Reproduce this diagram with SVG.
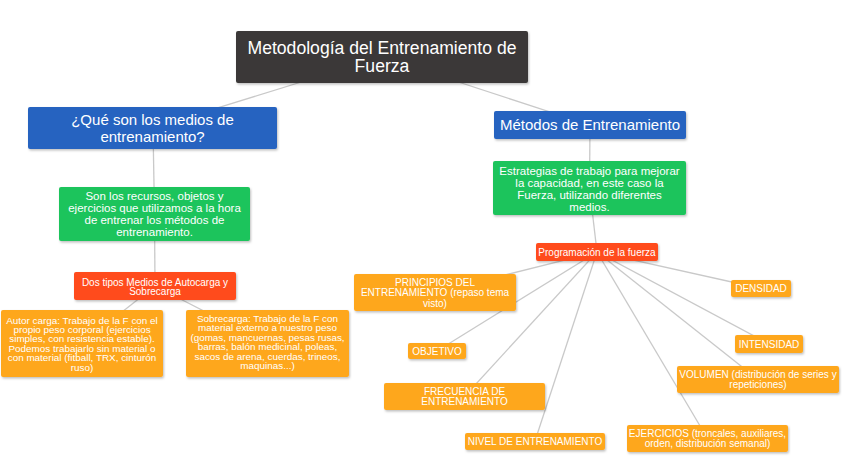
<svg xmlns="http://www.w3.org/2000/svg" width="848" height="468" viewBox="0 0 848 468">
<defs>
<filter id="sh" x="-10%" y="-20%" width="120%" height="150%"><feDropShadow dx="1" dy="1.5" stdDeviation="1" flood-color="#000" flood-opacity="0.25"/></filter>
<style>
.b{filter:url(#sh);rx:2}
.t{fill:#fff;font-family:"Liberation Sans",Arial,sans-serif;text-anchor:middle}
.dk{fill:#3b3938}.bl{fill:#2563c0}.gr{fill:#1ec45c}.rd{fill:#ff4b1c}.or{fill:#fea71f}
.c line{stroke:#c9c9c9;stroke-width:1.3;fill:none}
</style>
</defs>
<rect width="848" height="468" fill="#fff"/>
<g class="c" id="connectors">
<line x1="382" y1="57" x2="152.5" y2="128"/>
<line x1="382" y1="57" x2="590" y2="125"/>
<line x1="153" y1="128" x2="154.5" y2="214"/>
<line x1="154.5" y1="214" x2="155" y2="286"/>
<line x1="155" y1="286" x2="82" y2="343.5"/>
<line x1="155" y1="286" x2="267" y2="343.5"/>
<line x1="590" y1="125" x2="589.5" y2="188"/>
<line x1="589.5" y1="188" x2="597" y2="252"/>
<line x1="597" y1="252" x2="435" y2="292.5"/>
<line x1="597" y1="252" x2="437" y2="351"/>
<line x1="597" y1="252" x2="464.5" y2="396.5"/>
<line x1="597" y1="252" x2="535" y2="441"/>
<line x1="597" y1="252" x2="707.5" y2="438.5"/>
<line x1="597" y1="252" x2="758" y2="379.5"/>
<line x1="597" y1="252" x2="769" y2="344"/>
<line x1="597" y1="252" x2="761" y2="288.5"/>
</g>
<g id="title"><rect class="b dk" x="236" y="31" width="292" height="52"/>
<text class="t" font-size="17.6"><tspan x="382" y="54">Metodología del Entrenamiento de</tspan><tspan x="382" y="72">Fuerza</tspan></text></g>
<g id="medios"><rect class="b bl" x="28" y="107" width="249" height="42"/>
<text class="t" font-size="15"><tspan x="152.5" y="125">¿Qué son los medios de</tspan><tspan x="152.5" y="142">entrenamiento?</tspan></text></g>
<g id="metodos"><rect class="b bl" x="494" y="111" width="192" height="28"/>
<text class="t" font-size="15" x="590" y="130">Métodos de Entrenamiento</text></g>
<g id="recursos"><rect class="b gr" x="59" y="187" width="191" height="54"/>
<text class="t" font-size="11.5"><tspan x="154.5" y="200">Son los recursos, objetos y</tspan><tspan x="154.5" y="212">ejercicios que utilizamos a la hora</tspan><tspan x="154.5" y="224">de entrenar los métodos de</tspan><tspan x="154.5" y="236">entrenamiento.</tspan></text></g>
<g id="estrategias"><rect class="b gr" x="493" y="161" width="193" height="54"/>
<text class="t" font-size="11.5"><tspan x="589.5" y="175">Estrategias de trabajo para mejorar</tspan><tspan x="589.5" y="187">la capacidad, en este caso la</tspan><tspan x="589.5" y="199">Fuerza, utilizando diferentes</tspan><tspan x="589.5" y="211">medios.</tspan></text></g>
<g id="dostipos"><rect class="b rd" x="74" y="272" width="162" height="28"/>
<text class="t" font-size="10"><tspan x="155" y="285.5">Dos tipos Medios de Autocarga y</tspan><tspan x="155" y="295">Sobrecarga</tspan></text></g>
<g id="programacion"><rect class="b rd" x="536" y="243" width="122" height="18"/>
<text class="t" font-size="10" x="597" y="255.5">Programación de la fuerza</text></g>
<g id="autor"><rect class="b or" x="1" y="310" width="162" height="67"/>
<text class="t" font-size="9.9"><tspan x="82" y="323.5">Autor carga: Trabajo de la F con el</tspan><tspan x="82" y="332.9">propio peso corporal (ejercicios</tspan><tspan x="82" y="342.3">simples, con resistencia estable).</tspan><tspan x="82" y="351.7">Podemos trabajarlo sin material o</tspan><tspan x="82" y="361.1">con material (fitball, TRX, cinturón</tspan><tspan x="82" y="370.5">ruso)</tspan></text></g>
<g id="sobrecarga"><rect class="b or" x="186" y="310" width="163" height="67"/>
<text class="t" font-size="9.9"><tspan x="267.5" y="322">Sobrecarga: Trabajo de la F con</tspan><tspan x="267.5" y="331.4">material externo a nuestro peso</tspan><tspan x="267.5" y="340.8">(gomas, mancuernas, pesas rusas,</tspan><tspan x="267.5" y="350.2">barras, balón medicinal, poleas,</tspan><tspan x="267.5" y="359.6">sacos de arena, cuerdas, trineos,</tspan><tspan x="267.5" y="369">maquinas...)</tspan></text></g>
<g id="principios"><rect class="b or" x="354" y="274" width="162" height="37"/>
<text class="t" font-size="10"><tspan x="435" y="285.5">PRINCIPIOS DEL</tspan><tspan x="435" y="296">ENTRENAMIENTO (repaso tema</tspan><tspan x="435" y="306.5">visto)</tspan></text></g>
<g id="objetivo"><rect class="b or" x="408" y="343" width="58" height="16"/>
<text class="t" font-size="10" x="437" y="354.5">OBJETIVO</text></g>
<g id="frecuencia"><rect class="b or" x="384" y="383" width="161" height="27"/>
<text class="t" font-size="10"><tspan x="464.5" y="394.5">FRECUENCIA DE</tspan><tspan x="464.5" y="404.5">ENTRENAMIENTO</tspan></text></g>
<g id="nivel"><rect class="b or" x="465" y="433" width="140" height="17"/>
<text class="t" font-size="10" x="535" y="445">NIVEL DE ENTRENAMIENTO</text></g>
<g id="densidad"><rect class="b or" x="731" y="280" width="60" height="17"/>
<text class="t" font-size="10" x="761" y="292">DENSIDAD</text></g>
<g id="intensidad"><rect class="b or" x="735" y="335" width="68" height="18"/>
<text class="t" font-size="10" x="769" y="347.5">INTENSIDAD</text></g>
<g id="volumen"><rect class="b or" x="677" y="366" width="162" height="27"/>
<text class="t" font-size="10"><tspan x="758" y="377.5">VOLUMEN (distribución de series y</tspan><tspan x="758" y="387.5">repeticiones)</tspan></text></g>
<g id="ejercicios"><rect class="b or" x="627" y="425" width="161" height="27"/>
<text class="t" font-size="10"><tspan x="707.5" y="436.5">EJERCICIOS (troncales, auxiliares,</tspan><tspan x="707.5" y="446.5">orden, distribución semanal)</tspan></text></g>
</svg>
